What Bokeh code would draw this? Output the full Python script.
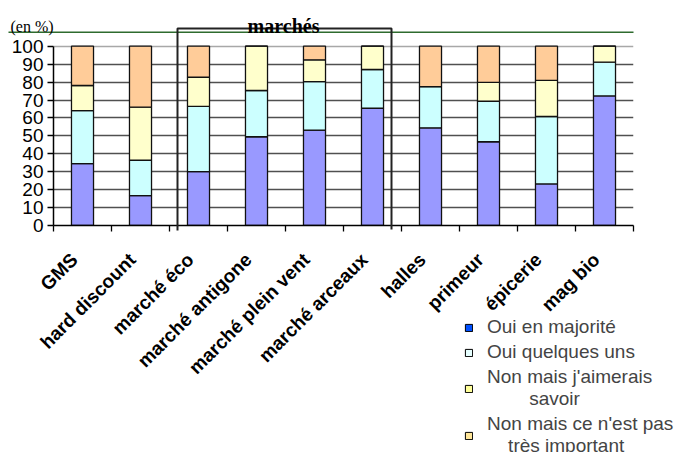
from bokeh.plotting import figure
from bokeh.layouts import column
from bokeh.models import Range1d, FixedTicker, Label, Legend, LegendItem, Grid
from bokeh.embed import file_html
from bokeh.resources import INLINE

# ---- data ----
categories = ["GMS", "hard discount", "marché éco", "marché antigone",
              "marché plein vent", "marché arceaux", "halles", "primeur",
              "épicerie", "mag bio"]
oui_majorite = [34.5, 16.7, 30.1, 49.5, 53.2, 65.4, 54.5, 46.7, 23.2, 72.3]
oui_quelques = [29.6, 19.7, 36.4, 25.8, 27.1, 21.6, 23.0, 22.6, 37.6, 18.8]
non_aimerais = [14.0, 29.6, 16.2, 24.7, 12.1, 13.0, 0.0, 10.5, 20.1, 8.9]
non_pas_important = [21.9, 34.0, 17.3, 0.0, 7.6, 0.0, 22.5, 20.2, 19.1, 0.0]
series_names = ["Oui en majorité", "Oui quelques uns",
                "Non mais j'aimerais\n" + "\u00a0" * 8 + "savoir",
                "Non mais ce n'est pas\n" + "\u00a0" * 4 + "très important"]
y_ticks = [0, 10, 20, 30, 40, 50, 60, 70, 80, 90, 100]

bar_colors = ["#9999FF", "#CCFFFF", "#FFFFCC", "#FFCC99"]
legend_colors = ["#0050FF", "#E6FFFF", "#FFFF99", "#FFE699"]

W, H = 685, 452
n = len(categories)
xs = [i + 0.5 for i in range(n)]
label_shift = 0.14  # rotated labels sit a little left of the bar centre
label_pos = [x - label_shift for x in xs]
data = dict(x=xs, s0=oui_majorite, s1=oui_quelques, s2=non_aimerais, s3=non_pas_important)

# ---- main chart ----
p = figure(width=W, height=H, output_backend="svg", toolbar_location=None,
           x_range=Range1d(0, n), y_range=Range1d(0, 125.5),
           min_border_left=53, min_border_right=52, min_border_top=0,
           min_border_bottom=227, frame_align=False)
p.outline_line_color = None
p.background_fill_color = "white"
p.border_fill_color = "white"

p.xgrid.grid_line_color = None
p.ygrid.ticker = FixedTicker(ticks=y_ticks[:-1])
p.ygrid.grid_line_color = "#505050"
p.ygrid.grid_line_width = 1.3
p.add_layout(Grid(dimension=1, ticker=FixedTicker(ticks=y_ticks[-1:]),
                  grid_line_color="#A8A8A8", grid_line_width=1.3))

p.vbar_stack(["s0", "s1", "s2", "s3"], x="x", width=0.38, source=data,
             fill_color=bar_colors, line_color="#111111", line_width=1.3)

p.xaxis.ticker = FixedTicker(ticks=label_pos, minor_ticks=list(range(n + 1)))
p.xaxis.major_label_overrides = {x: c for x, c in zip(label_pos, categories)}
p.xaxis.major_label_orientation = 0.785398
p.xaxis.major_tick_line_color = None
p.xaxis.major_tick_out = 0
p.xaxis.major_tick_in = 0
p.xaxis.minor_tick_line_color = "black"
p.xaxis.minor_tick_line_width = 1.3
p.xaxis.minor_tick_out = 6
p.xaxis.minor_tick_in = 0
p.xaxis.axis_line_color = "black"
p.xaxis.axis_line_width = 1.5
p.xaxis.major_label_text_font = "Liberation Sans"
p.xaxis.major_label_text_font_style = "bold"
p.xaxis.major_label_text_font_size = "19px"
p.xaxis.major_label_text_color = "black"
p.xaxis.major_label_standoff = 25

p.yaxis.ticker = FixedTicker(ticks=y_ticks)
p.yaxis.axis_line_color = "black"
p.yaxis.axis_line_width = 1.5
p.yaxis.major_tick_line_color = "black"
p.yaxis.major_tick_line_width = 1.3
p.yaxis.major_tick_out = 6
p.yaxis.major_tick_in = 0
p.yaxis.minor_tick_line_color = None
p.yaxis.major_label_standoff = 4
p.yaxis.major_label_text_font = "Liberation Sans"
p.yaxis.major_label_text_font_size = "19px"
p.yaxis.major_label_text_color = "black"
p.yaxis.bounds = (0, 100)

# ---- overlay (pixel coordinates) for decorations and legend ----
o = figure(width=W, height=H, output_backend="svg", toolbar_location=None,
           x_range=Range1d(0, W), y_range=Range1d(H, 0),
           x_axis_type=None, y_axis_type=None, min_border=0, frame_align=False)
o.outline_line_color = None
o.background_fill_color = None
o.border_fill_color = None
o.grid.visible = False

o.line(x=[8, 633], y=[31.7, 31.7], line_color="#2E6B2E", line_width=1.5)
o.line(x=[177, 177, 391, 391], y=[230, 28, 28, 229], line_color="#222222", line_width=2)
o.add_layout(Label(x=10, y=26, text="(en %)", text_font="Liberation Serif",
                   text_font_size="16px", text_color="black", text_baseline="alphabetic"))
o.add_layout(Label(x=283, y=25, text="marchés", text_font="Liberation Serif",
                   text_font_size="20px", text_font_style="bold", text_align="center",
                   text_baseline="alphabetic", text_color="black"))

nan = float("nan")
items = []
for name, col in zip(series_names, legend_colors):
    r = o.vbar(x=[nan], top=[nan], width=1, fill_color=col, line_color="black", line_width=1)
    items.append(LegendItem(label=name, renderers=[r]))
legend = Legend(items=items, location=(464, -5), glyph_width=9, glyph_height=9,
                label_text_font="Liberation Sans", label_text_font_size="19px",
                label_height=22, label_standoff=14, spacing=3, padding=0,
                margin=0, border_line_color=None, background_fill_alpha=0)
o.add_layout(legend, "center")
o.margin = (-H, 0, 0, 0)

layout = column(p, o, spacing=0)
open("out.html", "w").write(file_html(layout, INLINE))
